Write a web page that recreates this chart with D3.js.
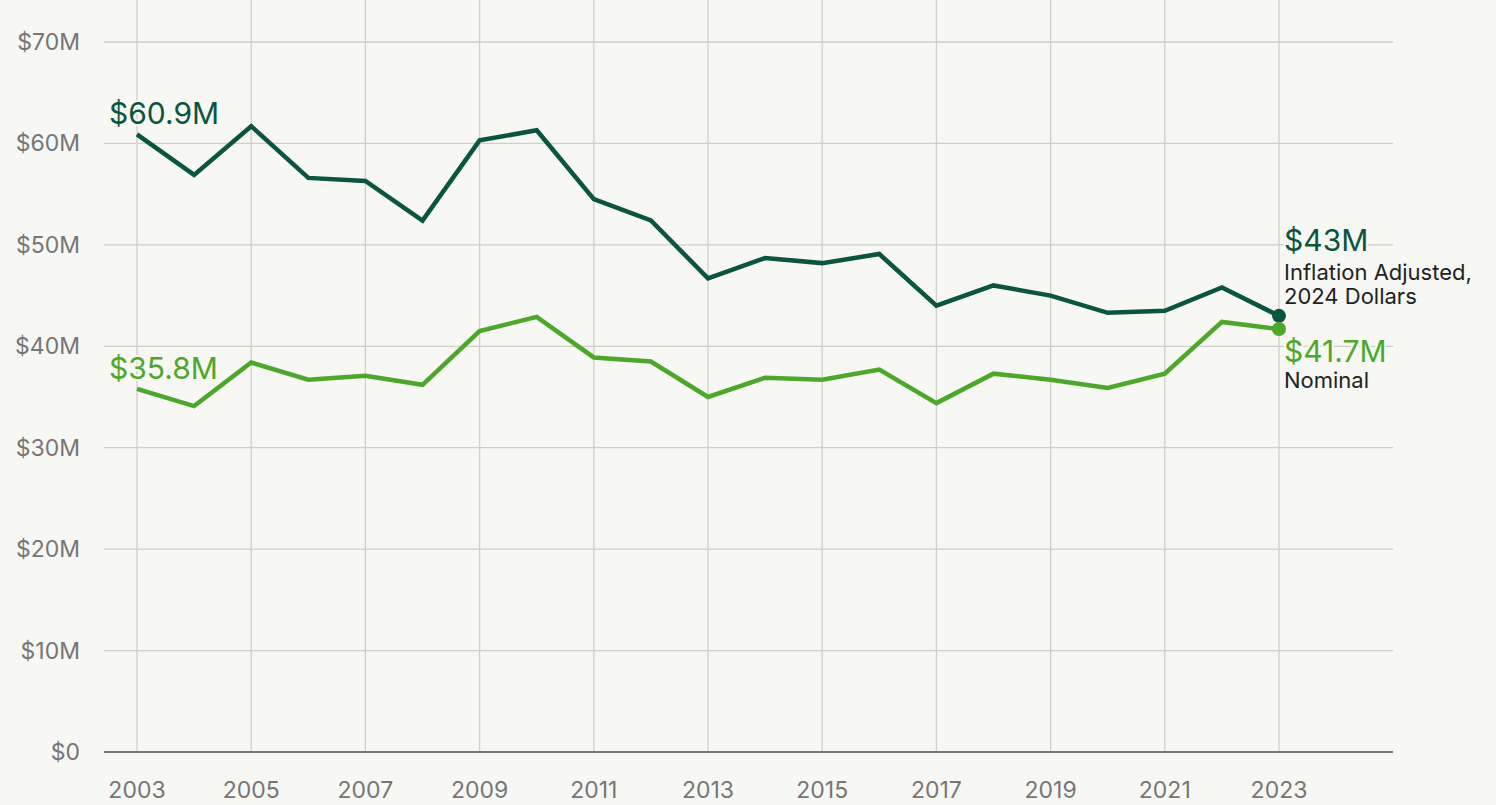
<!DOCTYPE html>
<html>
<head>
<meta charset="utf-8">
<script src="https://cdn.jsdelivr.net/npm/d3@7"></script>
<style>
  body { margin: 0; background: #f7f7f3; }
  svg { display: block; font-family: Inter, "Noto Sans", sans-serif; }
  .tick-label { fill: #767676; font-size: 23px; }
  .halo { paint-order: stroke; stroke: #f7f7f3; stroke-width: 4px; stroke-linejoin: round; }
</style>
</head>
<body>
<svg width="1496" height="805"></svg>
<script>
var years = d3.range(2003, 2024);
var adjusted = [60.9, 56.9, 61.7, 56.6, 56.3, 52.4, 60.3, 61.3, 54.5, 52.4, 46.7,
                48.7, 48.2, 49.1, 44.0, 46.0, 45.0, 43.3, 43.5, 45.8, 43.0];
var nominal = [35.8, 34.1, 38.4, 36.7, 37.1, 36.2, 41.5, 42.9, 38.9, 38.5, 35.0,
               36.9, 36.7, 37.7, 34.4, 37.3, 36.7, 35.9, 37.3, 42.4, 41.7];
var yTicks = [0, 10, 20, 30, 40, 50, 60, 70];
var xTicks = [2003, 2005, 2007, 2009, 2011, 2013, 2015, 2017, 2019, 2021, 2023];

var darkGreen = "#0b5440",
    lightGreen = "#4da72a";

var svg = d3.select("svg"),
    left = 104, right = 1393, bottom = 752;

var x = d3.scaleLinear().domain([2003, 2023]).range([137, 1279]),
    y = d3.scaleLinear().domain([0, 70]).range([bottom, 42]);

// grid
svg.append("g").selectAll("line")
    .data(xTicks)
  .enter().append("line")
    .attr("x1", d => x(d)).attr("x2", d => x(d))
    .attr("y1", 0).attr("y2", bottom)
    .attr("stroke", "#cfcfcb").attr("stroke-width", 1.3);

svg.append("g").selectAll("line")
    .data(yTicks.filter(d => d > 0))
  .enter().append("line")
    .attr("x1", left).attr("x2", right)
    .attr("y1", d => y(d)).attr("y2", d => y(d))
    .attr("stroke", "#cfcfcb").attr("stroke-width", 1.3);

svg.append("line")
    .attr("x1", left).attr("x2", right)
    .attr("y1", y(0)).attr("y2", y(0))
    .attr("stroke", "#757575").attr("stroke-width", 2);

// tick labels
svg.append("g").selectAll("text")
    .data(yTicks)
  .enter().append("text")
    .attr("class", "tick-label")
    .attr("x", 80)
    .attr("y", d => y(d))
    .attr("dy", "0.35em")
    .attr("text-anchor", "end")
    .text(d => d === 0 ? "$0" : "$" + d + "M");

svg.append("g").selectAll("text")
    .data(xTicks)
  .enter().append("text")
    .attr("class", "tick-label")
    .attr("x", d => x(d))
    .attr("y", 798)
    .attr("text-anchor", "middle")
    .text(d => d);

// lines
var line = d3.line()
    .x((d, i) => x(years[i]))
    .y(d => y(d));

svg.append("path")
    .datum(nominal)
    .attr("fill", "none")
    .attr("stroke", lightGreen)
    .attr("stroke-width", 4.5)
    .attr("d", line);

svg.append("path")
    .datum(adjusted)
    .attr("fill", "none")
    .attr("stroke", darkGreen)
    .attr("stroke-width", 4.5)
    .attr("d", line);

var last = years.length - 1;
svg.append("circle")
    .attr("cx", x(years[last])).attr("cy", y(adjusted[last]))
    .attr("r", 7).attr("fill", darkGreen);
svg.append("circle")
    .attr("cx", x(years[last])).attr("cy", y(nominal[last]))
    .attr("r", 7).attr("fill", lightGreen);

// start labels
svg.append("text")
    .attr("class", "halo")
    .attr("x", 109).attr("y", y(adjusted[0]) - 10)
    .attr("fill", darkGreen).attr("font-size", 30)
    .text("$" + adjusted[0] + "M");

svg.append("text")
    .attr("class", "halo")
    .attr("x", 109).attr("y", y(nominal[0]) - 10)
    .attr("fill", lightGreen).attr("font-size", 30)
    .text("$" + nominal[0] + "M");

// end labels
var ex = x(years[last]) + 5;
svg.append("text")
    .attr("class", "halo")
    .attr("x", ex).attr("y", 251)
    .attr("fill", darkGreen).attr("font-size", 30)
    .text("$" + Math.round(adjusted[last]) + "M");
svg.append("text")
    .attr("x", ex).attr("y", 280)
    .attr("fill", "#222").attr("font-size", 22)
    .text("Inflation Adjusted,");
svg.append("text")
    .attr("x", ex).attr("y", 304)
    .attr("fill", "#222").attr("font-size", 22)
    .text("2024 Dollars");

svg.append("text")
    .attr("class", "halo")
    .attr("x", ex).attr("y", 362)
    .attr("fill", lightGreen).attr("font-size", 30)
    .text("$" + nominal[last] + "M");
svg.append("text")
    .attr("x", ex).attr("y", 388)
    .attr("fill", "#222").attr("font-size", 22)
    .text("Nominal");
</script>
</body>
</html>
